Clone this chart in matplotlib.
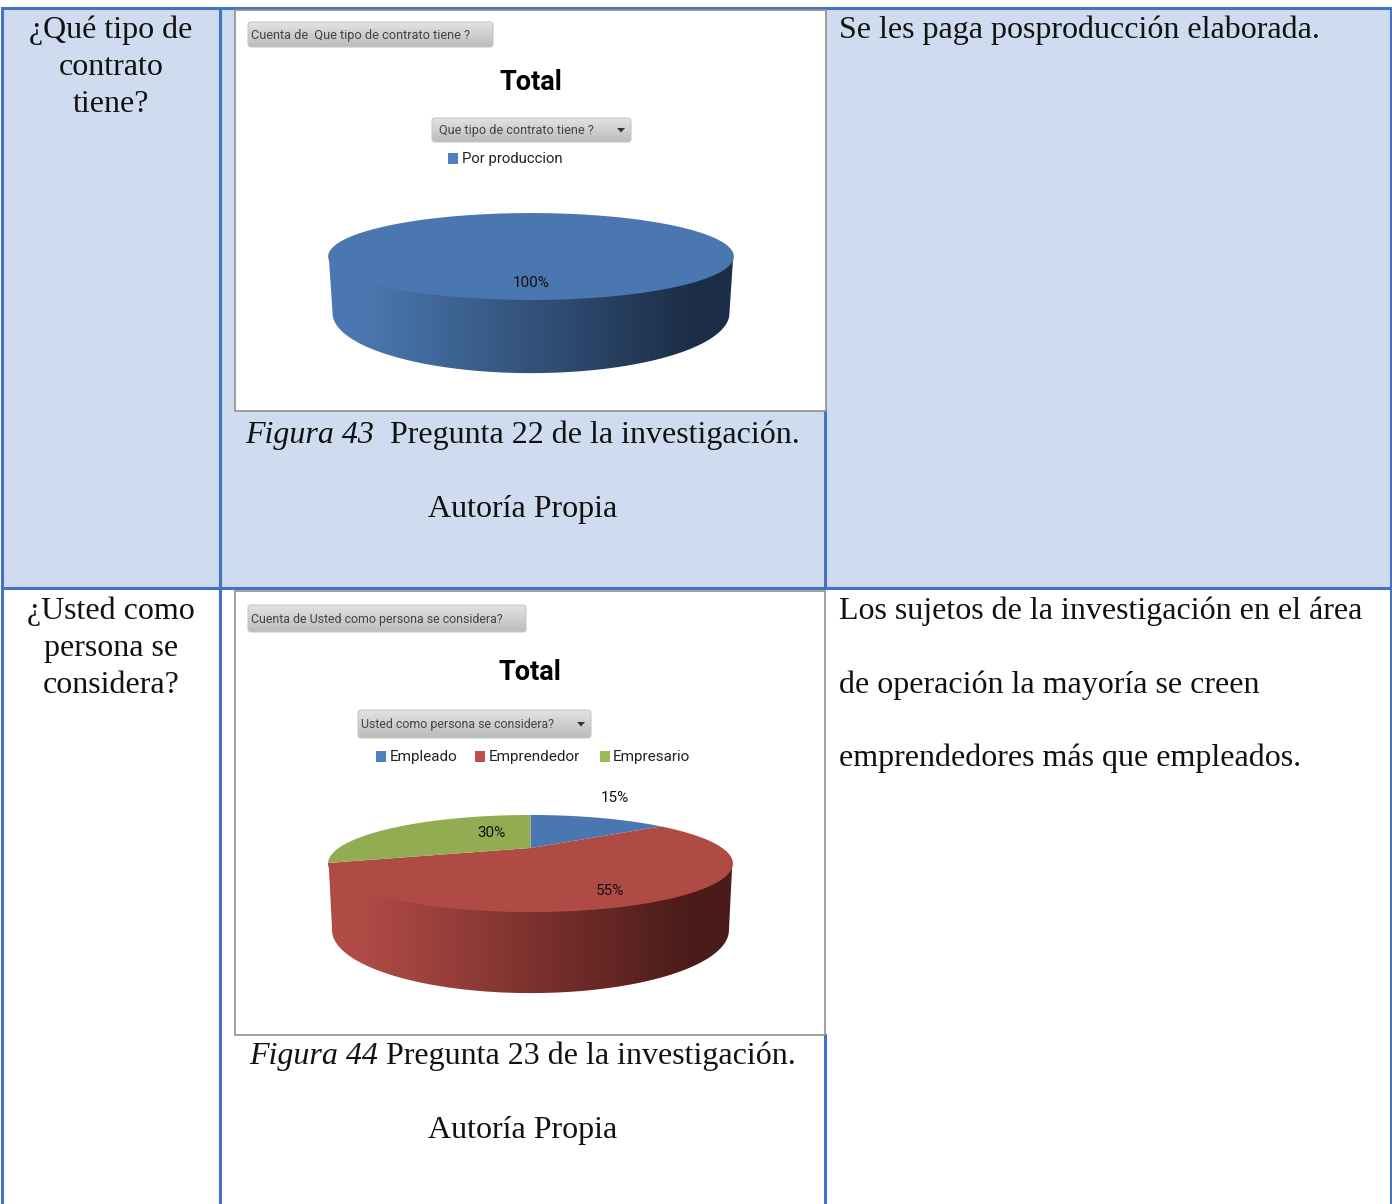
import numpy as np
import matplotlib
matplotlib.use("Agg")
import matplotlib.pyplot as plt
from matplotlib.patches import Rectangle, FancyBboxPatch, Polygon
from matplotlib.colors import LinearSegmentedColormap

# Data
contract_labels = ["Por produccion"]
contract_values = [100]
person_labels = ["Empleado", "Emprendedor", "Empresario"]
person_values = [15, 55, 30]

legend_colors = ["#4F81BD", "#C0504D", "#9BBB59"]
top_colors = ["#4A77AF", "#B04A45", "#92AC52"]

SERIF = "Liberation Serif"
NARROW = "Roboto"
BORDER = "#4472C4"
SHADE = "#CFDBEE"

fig = plt.figure(figsize=(13.92, 12.04), dpi=100)
ax = fig.add_axes([0, 0, 1, 1])


def stext(x, y, s, ha="left", style="normal"):
    ax.text(x, y + 2.5, s, family=SERIF, fontsize=23.0, ha=ha, va="center", style=style, color="#111111")


def ntext(x, y, s, size=11, ha="left", color="#222222", weight="normal"):
    ax.text(x, y, s, family=NARROW, fontsize=size, ha=ha, va="center", color=color, weight=weight, zorder=5)


def button(x0, y0, x1, y1, label, size, pad=3, arrow=None):
    box = FancyBboxPatch((x0 + 3, y0 + 3), x1 - x0 - 6, y1 - y0 - 6,
                         boxstyle="round,pad=3,rounding_size=3", fc="none", ec="#C8C8C8", lw=0.8, zorder=3)
    ax.add_patch(box)
    grad = ax.imshow(np.linspace(0, 1, 30).reshape(-1, 1), extent=(x0, x1, y1, y0), aspect="auto",
                     cmap=LinearSegmentedColormap.from_list("b", ["#E2E2E2", "#BCBCBC"]), zorder=2)
    grad.set_clip_path(box)
    ntext(x0 + pad, (y0 + y1) / 2 + 0.5, label, size=size, color="#444444")
    if arrow:
        cy = (y0 + y1) / 2
        ax.add_patch(Polygon([[arrow - 4, cy - 2], [arrow + 4, cy - 2], [arrow, cy + 2.5]], fc="#333333", ec="none", zorder=4))


def project(theta, cx, apex, r, s, k=0.32):
    # disc seen in perspective, theta clockwise from the far side
    w = 1 + k * np.cos(theta)
    return cx + r * np.sin(theta) / w, apex - s * np.cos(theta) / w


def pie3d(values, colors, shade, cx, top, bottom):
    # top and bottom are (apex y, r, s) of the upper and lower rim
    fronts = np.linspace(np.arccos(-0.32), 2 * np.pi - np.arccos(-0.32), 200)
    ux, uy = project(fronts, cx, top[0] - 2, top[1] - 0.5, top[2])
    lx, ly = project(fronts, cx, *bottom)
    side = np.vstack([np.column_stack([ux, uy]), np.column_stack([lx, ly])[::-1]])
    patch = Polygon(side, fc="none", ec="none", zorder=2)
    ax.add_patch(patch)
    columns = np.arange(cx - 205, cx + 205)
    grad = np.clip((columns - (cx - 165)) / 325, 0, 1).reshape(1, -1)
    cmap = LinearSegmentedColormap.from_list("side", shade)
    img = ax.imshow(grad, extent=(cx - 205, cx + 205, 1000, 0), aspect="auto", cmap=cmap, vmin=0, vmax=1, zorder=2)
    img.set_clip_path(patch)

    edges = np.cumsum([0] + list(values)) / sum(values) * 2 * np.pi
    for i, v in enumerate(values):
        t = np.linspace(edges[i], edges[i + 1], 240)
        x, y = project(t, cx, *top)
        if v < sum(values):
            x = np.r_[cx, x]
            y = np.r_[top[0], y]
        ax.fill(x, y, color=colors[i], lw=0, zorder=3)


# cell shading and chart frames
ax.add_patch(Rectangle((2, 8), 1389, 580, fc=SHADE, ec="none", zorder=0))
for x0, y0, x1, y1 in [(234.5, 10, 826, 411), (234.5, 590.5, 825, 1035)]:
    ax.add_patch(Rectangle((x0, y0), x1 - x0, y1 - y0, fc="white", ec="#8F8F8F", lw=1.2, zorder=1))

# table rules
for xs, ys in [([2, 2], [8, 1204]), ([219.5, 219.5], [8, 1204]), ([1391, 1391], [8, 1204]),
               ([825, 825], [411, 588]), ([825, 825], [1035, 1204]),
               ([2, 1391], [8, 8]), ([2, 1391], [588, 588])]:
    ax.plot(xs, ys, color=BORDER, lw=2.2, solid_capstyle="projecting", zorder=0.5)

# first row text
for y, s in zip([28, 65, 102], ["¿Qué tipo de", "contrato", "tiene?"]):
    stext(111, y, s, ha="center")
stext(839, 28, "Se les paga posproducción elaborada.")
stext(245.5, 433, "Figura 43", style="italic")
stext(390, 433, "Pregunta 22 de la investigación.")
stext(523, 507, "Autoría Propia", ha="center")

# first chart
button(248, 22, 493, 47, "Cuenta de  Que tipo de contrato tiene ?", 9.2)
ntext(530.5, 83, "Total", size=19.5, ha="center", color="black", weight="bold")
button(432, 118, 631, 142, "Que tipo de contrato tiene ?", 9.1, pad=7, arrow=621)
ax.add_patch(Rectangle((448, 153), 10, 11, fc=legend_colors[0], ec="none", zorder=3))
ntext(462, 159, contract_labels[0], size=10.7)
pie3d(contract_values, top_colors[:1], ["#4A77AF", "#1C2E47"], 531, (242.6, 192.2, 39), (294, 188, 53.8))
ntext(531, 283, "100%", size=11, ha="center", color="#111111")

# second row text
for y, s in zip([609, 646, 683], ["¿Usted como", "persona se", "considera?"]):
    stext(111, y, s, ha="center")
for y, s in zip([609, 683, 756], ["Los sujetos de la investigación en el área",
                                  "de operación la mayoría se creen",
                                  "emprendedores más que empleados."]):
    stext(839, y, s)
stext(249.5, 1054, "Figura 44", style="italic")
stext(386, 1054, "Pregunta 23 de la investigación.")
stext(523, 1128, "Autoría Propia", ha="center")

# second chart
button(248, 605, 526, 632, "Cuenta de Usted como persona se considera?", 8.95)
ntext(530, 672, "Total", size=19.5, ha="center", color="black", weight="bold")
button(358, 710, 591, 738, "Usted como persona se considera?", 8.9, arrow=581)
for x, tx, lab, col in zip([376, 475, 600], [390, 489, 613], person_labels, legend_colors):
    ax.add_patch(Rectangle((x, 751), 10, 11, fc=col, ec="none", zorder=3))
    ntext(tx, 757, lab, size=11)
pie3d(person_values, top_colors, ["#B04A45", "#4A1B19"], 530.5, (848, 191.8, 43.6), (910, 188, 56.5))
for x, y, v in zip([615, 610, 491], [798, 891, 833], person_values):
    ntext(x, y, f"{v}%", size=11, ha="center", color="#111111")

ax.set_xlim(0, 1392)
ax.set_ylim(1204, 0)
ax.axis("off")
fig.savefig("out.png", dpi=100)
